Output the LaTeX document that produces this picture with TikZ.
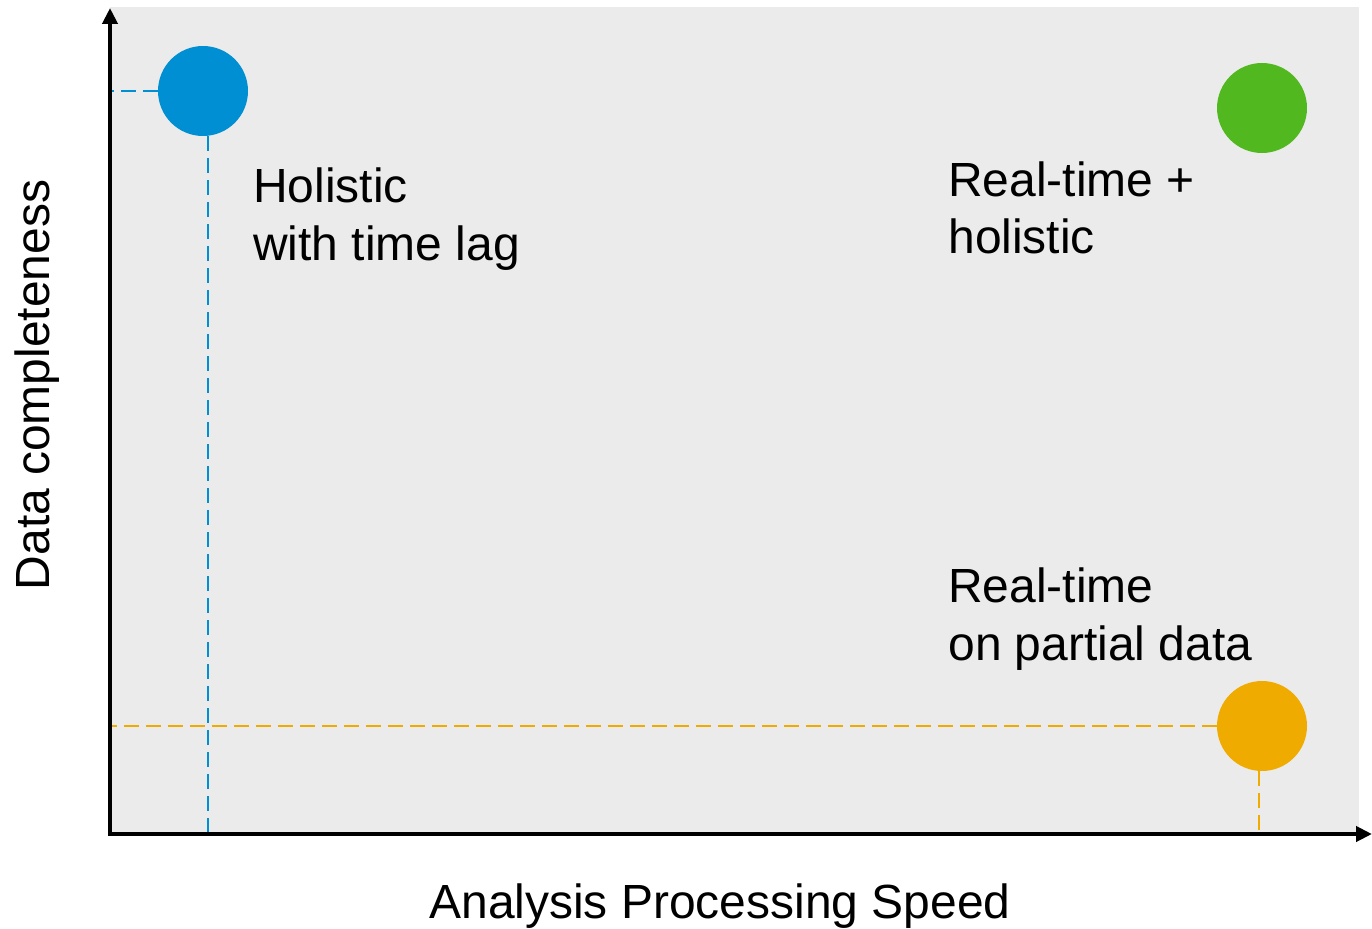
\documentclass[tikz,border=0pt]{standalone}
\usepackage{fontspec}
\setmainfont{Liberation Sans}
\usepackage{tikz}
\usetikzlibrary{arrows.meta}

\definecolor{panelgray}{HTML}{EBEBEB}
\definecolor{dotblue}{HTML}{008FD3}
\definecolor{dotgreen}{HTML}{52B820}
\definecolor{dotorange}{HTML}{F0AB00}

\begin{document}
\begin{tikzpicture}[x=0.02cm, y=-0.02cm,
  dot/.style={circle, minimum size=1.8cm, inner sep=0pt},
  guide/.style={dash pattern=on 0.3cm off 0.14cm, line width=1.1pt},
  axis/.style={line width=2.6pt, -{Triangle[length=0.32cm,width=0.3cm]}},
  lbl/.style={font=\fontsize{27.3}{33}\selectfont, align=left, inner sep=0pt}]

\useasboundingbox (0,0) rectangle (1372,929);
\fill[panelgray] (110,7) rectangle (1359,834);

\coordinate (origin) at (110,834);

% the three dots
\node[dot, fill=dotblue] (lag) at (203,91) {};
\node[dot, fill=dotgreen] (both) at (1262,108) {};
\node[dot, fill=dotorange] (partial) at (1262,726) {};

% guide lines
\draw[guide, dotblue] (lag.west) -- (lag.west -| origin);
\draw[guide, dotblue] ([xshift=0.1cm]lag.south) -- ([xshift=0.1cm]lag.south |- origin);
\draw[guide, dotorange] (partial.west) -- (partial.west -| origin);
\draw[guide, dotorange] ([xshift=-0.06cm]partial.south) -- ([xshift=-0.06cm]partial.south |- origin);

% axes
\draw[axis] ([yshift=-0.04cm]origin) -- (110,8);
\draw[axis] ([xshift=-0.04cm]origin) -- (1372,834);

% labels (base = last line)
\node[lbl, anchor=base west] (laglbl) at (253,260) {Holistic\\with time lag};
\node[lbl, anchor=base west] (bothlbl) at (948,254) {Real-time +\\holistic};
\node[lbl, anchor=base west] (partlbl) at (948,660) {Real-time\\on partial data};

\node[lbl, anchor=base] (xlbl) at (720,918) {Analysis Processing Speed};
\node[lbl, anchor=base, rotate=90] (ylbl) at (50,385) {Data completeness};

\end{tikzpicture}
\end{document}
